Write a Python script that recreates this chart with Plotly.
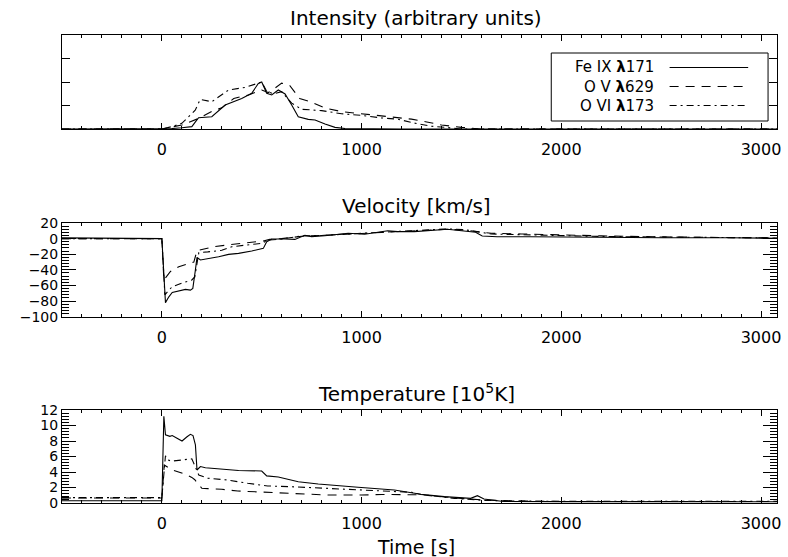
import plotly.graph_objects as go

# ---------------- data ----------------
# Intensity (arbitrary units)
t_int_fe = [-500, 0, 50, 100, 150, 168, 184, 250, 317, 400, 450, 483, 500, 525, 550, 583, 617, 650, 683, 733, 767, 817, 867, 917, 1000, 1200, 3080]
int_fe = [0, 0, 0.02, 0.05, 0.1, 0.3, 0.48, 0.52, 1.02, 1.3, 1.52, 1.94, 2.0, 1.52, 1.45, 1.66, 1.49, 1.02, 0.52, 0.41, 0.38, 0.21, 0.07, 0.02, 0.01, 0, 0]
t_int_ov = [-500, 0, 100, 184, 250, 300, 360, 434, 500, 533, 560, 600, 640, 690, 750, 820, 900, 1000, 1100, 1180, 1250, 1320, 1400, 1500, 1600, 3080]
int_ov = [0, 0, 0.17, 0.45, 0.75, 0.9, 1.3, 1.45, 1.66, 1.55, 1.7, 1.95, 1.85, 1.3, 1.14, 0.88, 0.74, 0.64, 0.55, 0.48, 0.42, 0.31, 0.17, 0.07, 0.0, 0]
t_int_ovi = [-500, 0, 50, 100, 167, 192, 250, 334, 417, 483, 500, 525, 560, 600, 650, 700, 800, 900, 1000, 1100, 1180, 1265, 1350, 1430, 1500, 3080]
int_ovi = [0, 0, 0.1, 0.24, 0.8, 1.26, 1.16, 1.66, 1.77, 1.97, 2.0, 1.6, 1.5, 1.59, 1.1, 0.84, 0.78, 0.65, 0.58, 0.47, 0.42, 0.25, 0.12, 0.06, 0.0, 0]

# Velocity [km/s]
t_vel_fe = [-500, -250, 0, 18, 35, 52, 85, 118, 143, 155, 168, 176, 193, 251, 284, 334, 384, 450, 508, 525, 550, 616, 666, 716, 750, 816, 883, 933, 1015, 1131, 1181, 1264, 1430, 1513, 1571, 1604, 1679, 1845, 2178, 2510, 2842, 3080]
vel_fe = [1, 0.5, 0, -82, -74.5, -69, -66.8, -65, -66, -63.7, -40, -24, -27.4, -25.3, -23.2, -20.2, -18.9, -15.9, -12.5, -4, -0.5, -0.5, -1, 4.2, 2.5, 3.7, 5.9, 6.8, 5.5, 10, 8.9, 8.9, 11.9, 10.1, 8.1, 3.3, 2.4, 2.4, 1.6, 1.2, 1.2, 0.4]
t_vel_ov = [-500, 0, 10, 43, 85, 134, 160, 176, 218, 260, 326, 367, 417, 458, 508, 540, 600, 700, 800, 900, 1000, 1100, 1200, 1300, 1430, 1513, 1571, 1650, 1800, 2000, 2200, 2500, 2800, 3080]
vel_ov = [0, 0, -53, -42, -36, -31.7, -30, -15.5, -12.5, -10.3, -8.2, -7, -6, -4, -3, -1, 0, 3, 4, 5, 6.5, 8, 9.5, 10.5, 12, 11, 9, 6.8, 6, 4.5, 3.5, 2.2, 1.2, 0.8]
t_vel_ovi = [-500, 0, 15, 50, 100, 150, 165, 185, 230, 300, 350, 450, 500, 530, 600, 700, 800, 900, 1000, 1100, 1200, 1300, 1430, 1513, 1571, 1650, 1800, 2000, 2200, 2500, 2800, 3080]
vel_ovi = [0, 0, -72, -62, -57, -53, -49, -18, -17, -15, -10.4, -8, -6, -2, -0.5, 3.5, 4, 5.5, 7, 8.5, 9.5, 11, 12.5, 11.5, 9.5, 5.9, 5, 3.7, 2.8, 2, 1.2, 0.8]

# Temperature [10^5 K]
t_tem_fe = [-500, 0, 10, 18, 40, 52, 76, 101, 126, 143, 156, 168, 176, 193, 218, 300, 384, 500, 525, 583, 683, 783, 883, 982, 1164, 1297, 1414, 1546, 1580, 1613, 1680, 1713, 2000, 2500, 3080]
tem_fe = [0.3, 0.3, 11.2, 8.8, 8.6, 8.7, 8.35, 8.0, 8.55, 8.86, 8.7, 7.5, 4.26, 4.7, 4.55, 4.35, 4.2, 4.13, 3.5, 3.35, 2.75, 2.45, 2.2, 2.03, 1.68, 1.12, 0.82, 0.6, 0.94, 0.52, 0.3, 0.2, 0.18, 0.17, 0.17]
t_tem_ov = [-500, 0, 12, 50, 118, 150, 165, 185, 200, 230, 300, 380, 450, 530, 600, 680, 750, 830, 900, 1000, 1100, 1200, 1300, 1450, 1600, 1800, 2000, 3080]
tem_ov = [0.65, 0.65, 4.9, 4.3, 3.7, 3.3, 3.0, 2.3, 1.9, 1.85, 1.77, 1.55, 1.45, 1.38, 1.3, 1.2, 1.12, 1.03, 1.0, 1.03, 1.1, 1.1, 1.05, 0.7, 0.4, 0.25, 0.2, 0.2]
t_tem_ovi = [-500, 0, 18, 30, 50, 80, 120, 150, 170, 185, 230, 330, 430, 530, 650, 800, 950, 1050, 1170, 1250, 1297, 1465, 1600, 1750, 2000, 3080]
tem_ovi = [0.7, 0.7, 6.1, 5.55, 5.4, 5.5, 5.55, 5.7, 4.5, 3.6, 3.2, 2.97, 2.54, 2.2, 2.1, 1.94, 1.77, 1.62, 1.45, 1.38, 1.1, 0.6, 0.35, 0.25, 0.22, 0.22]

series_names = ["Fe IX <b>λ</b>171", "O V <b>λ</b>629", "O VI <b>λ</b>173"]
panel_titles = ["Intensity (arbitrary units)", "Velocity [km/s]", "Temperature [10<sup>5</sup>K]"]
x_title = "Time [s]"
x_range = [-500, 3080]
x_ticks = [0, 1000, 2000, 3000]

# ---------------- styling ----------------
FONT = "DejaVu Sans"
W, H = 788, 557
L, R, T, B = 62, 781, 35, 503
dashes = ["solid", "9px,7px", "7px,4px,2px,4px"]

def px_x(p):
    return (p - L) / (R - L)

def px_y(p):
    return (B - p) / (B - T)

fig = go.Figure()

panels = [
    (t_int_fe, int_fe, t_int_ov, int_ov, t_int_ovi, int_ovi),
    (t_vel_fe, vel_fe, t_vel_ov, vel_ov, t_vel_ovi, vel_ovi),
    (t_tem_fe, tem_fe, t_tem_ov, tem_ov, t_tem_ovi, tem_ovi),
]
for k, pdata in enumerate(panels):
    xa = "x" if k == 0 else f"x{k+1}"
    ya = "y" if k == 0 else f"y{k+1}"
    for s in range(3):
        fig.add_trace(go.Scatter(
            x=pdata[2 * s], y=pdata[2 * s + 1], mode="lines",
            line=dict(color="black", width=1.1, dash=dashes[s]),
            xaxis=xa, yaxis=ya, showlegend=False, name=series_names[s]))

domains = [(px_y(129), 1.0), (px_y(316.7), px_y(223)), (0.0, px_y(410))]
yranges = [[0, 4], [-100, 20], [0, 12]]
ydticks = [1, 20, 2]
yminor = [None, 4, 0.4]

axis_common = dict(
    showline=True, linecolor="black", linewidth=1, mirror="ticks",
    ticks="inside", tickcolor="black", showgrid=False, zeroline=False,
)

layout = {}
for k in range(3):
    xk = "xaxis" if k == 0 else f"xaxis{k+1}"
    yk = "yaxis" if k == 0 else f"yaxis{k+1}"
    ya = "y" if k == 0 else f"y{k+1}"
    xa = "x" if k == 0 else f"x{k+1}"
    layout[xk] = dict(
        axis_common, domain=[0, 1], anchor=ya, range=x_range,
        tickmode="array", tickvals=x_ticks, ticklen=6, ticklabelstandoff=6,
        tickfont=dict(family=FONT, size=16, color="black"),
        minor=dict(dtick=100, tick0=0, ticklen=3, ticks="inside", tickcolor="black", showgrid=False),
    )
    yd = dict(
        axis_common, domain=list(domains[k]), anchor=xa, range=yranges[k],
        dtick=ydticks[k], tick0=0, ticklen=14 if k > 0 else 8,
        showticklabels=(k > 0),
        tickfont=dict(family=FONT, size=14, color="black"),
    )
    if yminor[k]:
        yd["minor"] = dict(dtick=yminor[k], tick0=0, ticklen=7, ticks="inside", tickcolor="black", showgrid=False)
    layout[yk] = yd

annotations = []
title_px = [18, 206, 393]
for k in range(3):
    annotations.append(dict(
        text=panel_titles[k], xref="paper", yref="paper",
        x=px_x(418), y=px_y(title_px[k]), xanchor="center", yanchor="middle",
        showarrow=False, font=dict(family=FONT, size=20, color="black")))
annotations.append(dict(
    text=x_title, xref="paper", yref="paper", x=px_x(418), y=px_y(547),
    xanchor="center", yanchor="middle", showarrow=False,
    font=dict(family=FONT, size=19, color="black")))

# legend (custom, like IDL): text then line sample
shapes = [dict(type="rect", xref="paper", yref="paper",
               x0=px_x(554), x1=px_x(772), y0=px_y(121), y1=px_y(53),
               line=dict(color="black", width=1), fillcolor="white")]
rows = [67.5, 86.5, 105.5]
for s in range(3):
    annotations.append(dict(
        text=series_names[s], xref="paper", yref="paper",
        x=px_x(659), y=px_y(rows[s]), xanchor="right", yanchor="middle",
        showarrow=False, font=dict(family=FONT, size=15, color="black")))
    shapes.append(dict(type="line", xref="paper", yref="paper",
                       x0=px_x(673), x1=px_x(752), y0=px_y(rows[s]), y1=px_y(rows[s]),
                       line=dict(color="black", width=1.1, dash=dashes[s])))

fig.update_layout(
    width=W, height=H,
    margin=dict(l=L, r=W - R, t=T, b=H - B, pad=0),
    paper_bgcolor="white", plot_bgcolor="white",
    showlegend=False,
    annotations=annotations, shapes=shapes,
    font=dict(family=FONT, color="black"),
    **layout,
)

fig.write_html("out.html")
